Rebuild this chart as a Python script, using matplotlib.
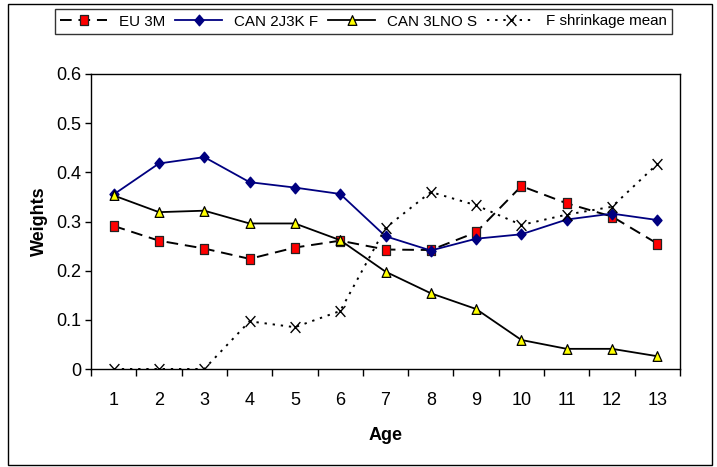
import matplotlib
matplotlib.use("Agg")
import matplotlib.pyplot as plt
from matplotlib.path import Path
from matplotlib.patches import Rectangle

plt.rcParams['font.family'] = ['Liberation Sans', 'DejaVu Sans']

ages = [1, 2, 3, 4, 5, 6, 7, 8, 9, 10, 11, 12, 13]
eu_3m = [0.291, 0.261, 0.245, 0.224, 0.247, 0.261, 0.243, 0.242, 0.278, 0.372, 0.337, 0.310, 0.255]
can_2j3k_f = [0.355, 0.418, 0.431, 0.380, 0.369, 0.356, 0.270, 0.241, 0.265, 0.274, 0.304, 0.316, 0.303]
can_3lno_s = [0.353, 0.319, 0.322, 0.296, 0.296, 0.262, 0.198, 0.154, 0.122, 0.059, 0.041, 0.041, 0.026]
f_shrink = [0.0, 0.0, 0.0, 0.097, 0.085, 0.118, 0.287, 0.360, 0.333, 0.293, 0.314, 0.330, 0.417]
yticks = [0, 0.1, 0.2, 0.3, 0.4, 0.5, 0.6]
ytick_labels = ['0', '0.1', '0.2', '0.3', '0.4', '0.5', '0.6']

# slightly narrow marker shapes
sq = Path([(-0.7, -1), (0.7, -1), (0.7, 1), (-0.7, 1), (-0.7, -1)],
          [Path.MOVETO, Path.LINETO, Path.LINETO, Path.LINETO, Path.CLOSEPOLY])
dia = Path([(0, -1), (0.85, 0), (0, 1), (-0.85, 0), (0, -1)],
           [Path.MOVETO, Path.LINETO, Path.LINETO, Path.LINETO, Path.CLOSEPOLY])
tri = Path([(-0.9, -1), (0.9, -1), (0, 1), (-0.9, -1)],
           [Path.MOVETO, Path.LINETO, Path.LINETO, Path.CLOSEPOLY])
xm = Path([(-0.9, -1), (0.9, 1), (-0.9, 1), (0.9, -1)],
          [Path.MOVETO, Path.LINETO, Path.MOVETO, Path.LINETO])

fig = plt.figure(figsize=(7.17, 4.67), dpi=100)
ax = fig.add_axes([91/717, 1-369/467, (680-91)/717, (369-74)/467])

ax.plot(ages, eu_3m, color='black', lw=1.4, dashes=(6, 3.5), marker=sq, ms=7.6,
        mfc='#ff0000', mec='#222222', mew=0.9, label='EU 3M', zorder=3)
ax.plot(ages, can_2j3k_f, color='#000080', lw=1.3, marker=dia, ms=7.6,
        mfc='#000080', mec='#000080', label='CAN 2J3K F', zorder=4)
ax.plot(ages, can_3lno_s, color='black', lw=1.3, marker=tri, ms=7.0,
        mfc='#ffff00', mec='black', mew=0.9, label='CAN 3LNO S', zorder=5)
ax.plot(ages, f_shrink, color='black', lw=1.4, dashes=(1.2, 3), marker=xm, ms=7.8,
        mfc='none', mec='black', mew=1.0, label='F shrinkage mean', zorder=6)

ax.set_xlim(0.5, 13.5)
ax.set_ylim(0, 0.6)
ax.set_yticks(yticks)
ax.set_yticklabels(ytick_labels)
ax.set_xticks(ages)
ax.set_xticklabels([str(a) for a in ages])
ax.set_xticks([a + 0.5 for a in [0] + ages], minor=True)
ax.tick_params(axis='x', which='major', length=0, pad=16.5, labelsize=13)
ax.tick_params(axis='x', which='minor', length=5, width=1, direction='out')
ax.tick_params(axis='y', length=4.5, width=1, direction='out', pad=2.5, labelsize=13)
for s in ax.spines.values():
    s.set_linewidth(1.0)
    s.set_color('black')

ax.set_xlabel('Age', fontweight='bold', fontsize=13, labelpad=13)
ax.set_ylabel('Weights', fontweight='bold', fontsize=13, labelpad=6)

leg = fig.legend(loc='center', bbox_to_anchor=(363.5/717, 1-21.5/467), bbox_transform=fig.transFigure,
                 ncol=4, frameon=True, fancybox=False, edgecolor='black', fontsize=10.9,
                 handlelength=3.1, handletextpad=0.75, columnspacing=0.7, borderpad=0.35)
leg.get_frame().set_linewidth(1.0)

fig.add_artist(Rectangle((8/717, 2/467), (712-8)/717, (464-3)/467, transform=fig.transFigure,
                         fill=False, lw=1.0, ec='black'))

fig.savefig('out.png', dpi=100)
